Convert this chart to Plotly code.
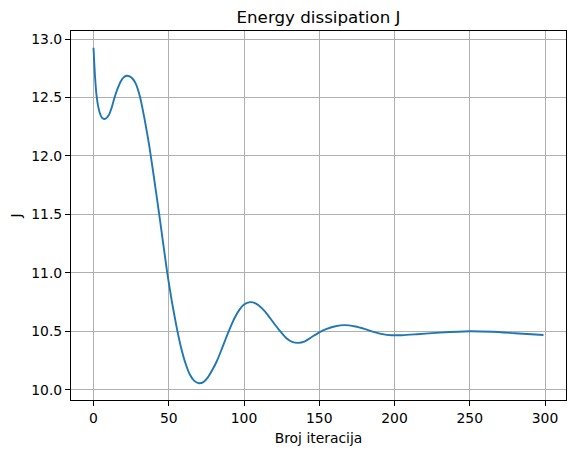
import plotly.graph_objects as go

# values
iteracije = [0, 1, 2, 3, 4, 5, 6, 7, 8, 10, 12, 14, 16, 18, 20, 22, 24, 26,
             28, 31, 34, 37, 40, 43, 46, 49, 52, 55, 58, 61, 64, 67, 70, 73,
             76, 79, 82, 85, 88, 91, 94, 97, 100, 104, 108, 112, 116, 120, 124,
             128, 132, 136, 140, 145, 150, 155, 160, 167, 174, 180, 186, 192,
             198, 205, 215, 230, 250, 265, 280, 299]
energija = [12.925, 12.68, 12.52, 12.43, 12.375, 12.34, 12.322, 12.316, 12.318,
            12.345, 12.41, 12.50, 12.575, 12.635, 12.672, 12.686, 12.68, 12.66,
            12.62, 12.50, 12.31, 12.09, 11.83, 11.56, 11.28, 11.0, 10.76,
            10.55, 10.37, 10.23, 10.13, 10.075, 10.055, 10.065, 10.105, 10.17,
            10.245, 10.34, 10.44, 10.535, 10.62, 10.685, 10.728, 10.749, 10.736,
            10.695, 10.636, 10.566, 10.50, 10.442, 10.408, 10.40, 10.41, 10.45,
            10.49, 10.52, 10.54, 10.552, 10.54, 10.52, 10.495, 10.475, 10.466,
            10.466, 10.474, 10.488, 10.50, 10.495, 10.483, 10.467]

x_ticks = [0, 50, 100, 150, 200, 250, 300]
y_ticks = [10.0, 10.5, 11.0, 11.5, 12.0, 12.5, 13.0]

FONT = "DejaVu Sans"


def pad_range(vals, frac=0.05):
    lo, hi = min(vals), max(vals)
    d = (hi - lo) * frac
    return [lo - d, hi + d]


fig = go.Figure()
fig.add_trace(go.Scatter(
    x=iteracije, y=energija, mode="lines",
    line=dict(color="#1f77b4", width=1.9, shape="spline", smoothing=0.6),
    showlegend=False,
))

axis_style = dict(
    showline=True, linecolor="black", linewidth=1, mirror=True,
    ticks="outside", ticklen=5, tickwidth=1, tickcolor="black",
    showgrid=True, gridcolor="#b0b0b0", gridwidth=1,
    zeroline=False, automargin=False,
    tickfont=dict(family=FONT, size=13.9, color="black"),
)

fig.update_xaxes(
    range=pad_range(iteracije), tickvals=x_ticks,
    title=dict(text="Broj iteracija", font=dict(family=FONT, size=13.9, color="black"),
               standoff=8),
    **axis_style,
)
fig.update_yaxes(
    range=pad_range(energija), tickvals=y_ticks, tickformat=".1f",
    title=dict(text="J", font=dict(family=FONT, size=13.9, color="black"),
               standoff=14),
    **axis_style,
)

# the page body adds an 8px offset, margins are shifted to compensate
fig.update_layout(
    width=576, height=453,
    margin=dict(l=63, r=18, t=23, b=61),
    paper_bgcolor="white", plot_bgcolor="white",
    title=dict(text="Energy dissipation J", x=0.5, xref="paper",
               y=1, yref="paper", yanchor="bottom", pad=dict(b=8),
               font=dict(family=FONT, size=16.7, color="black")),
)

fig.write_html("out.html")
